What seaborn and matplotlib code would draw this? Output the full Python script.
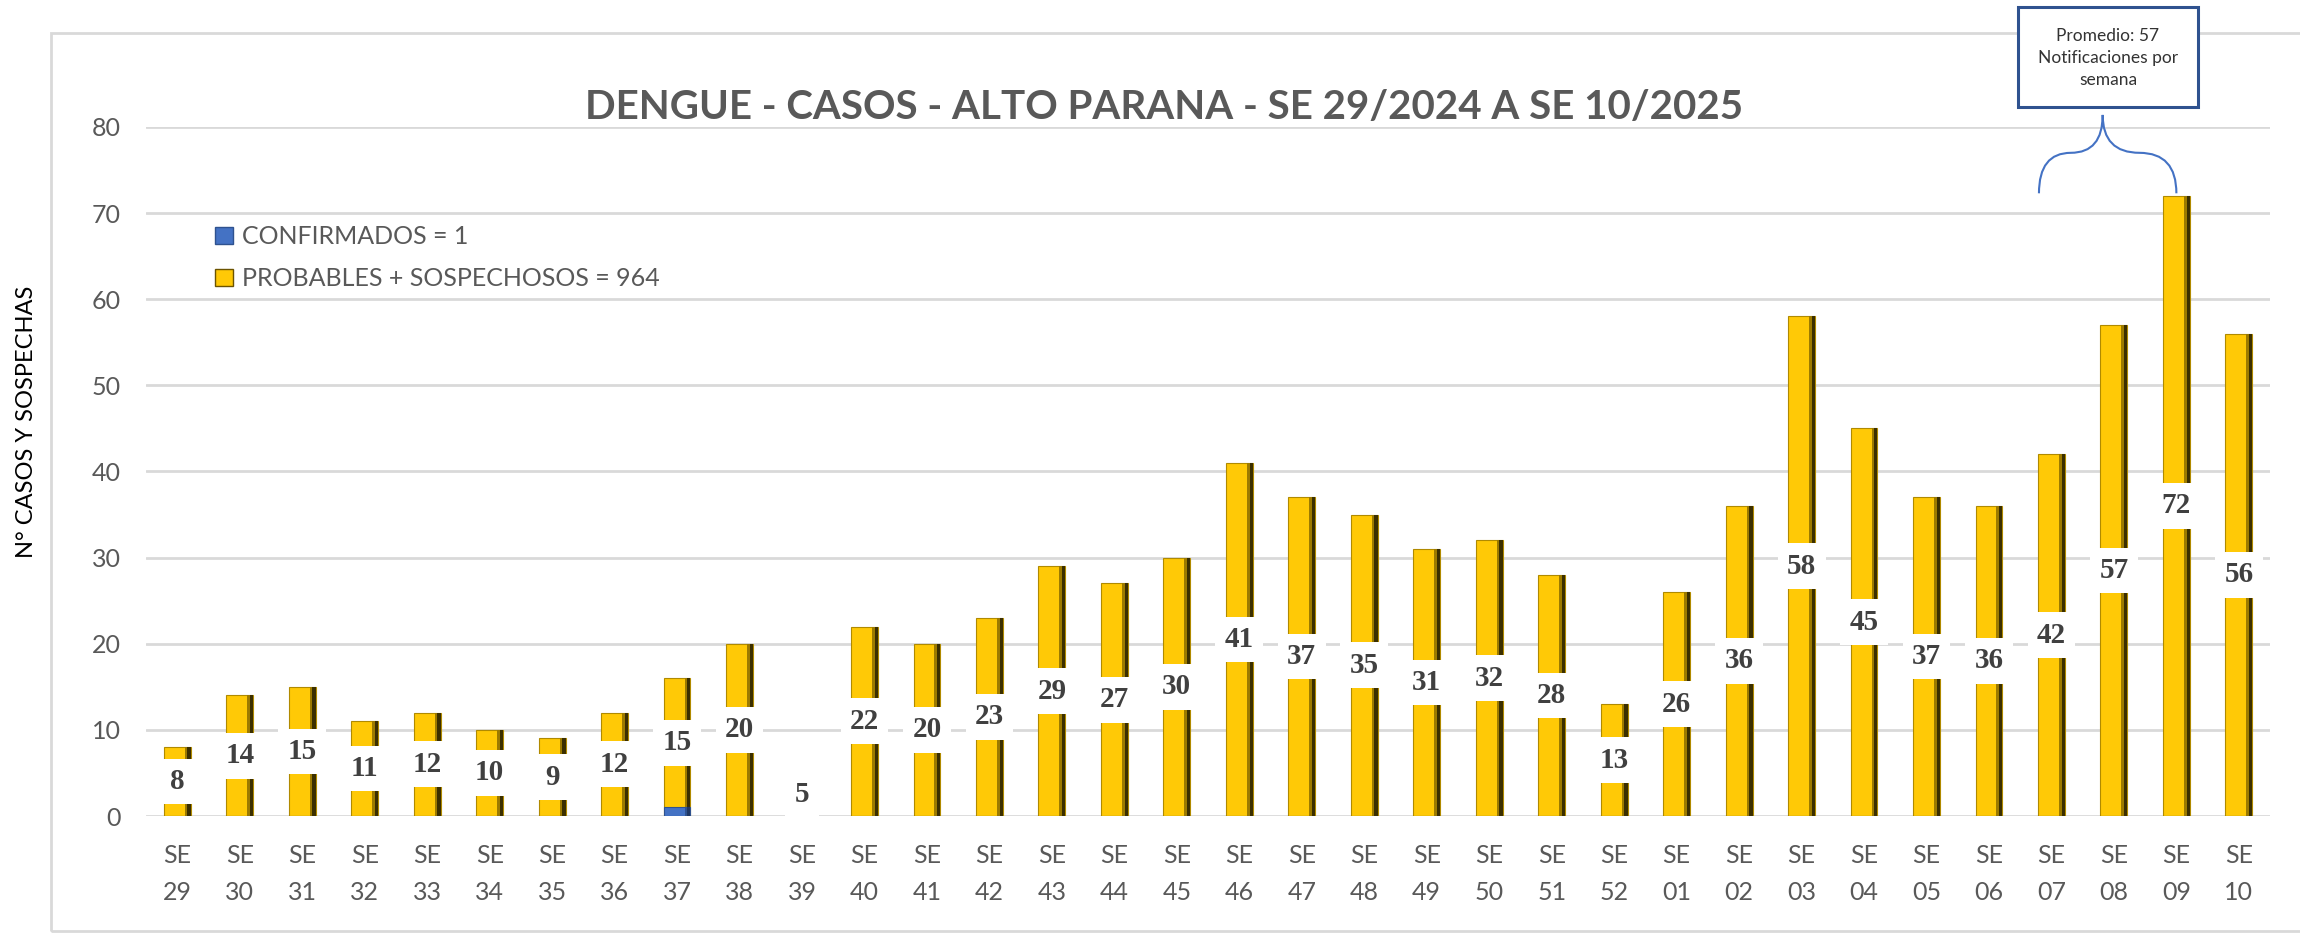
import numpy as np
import pandas as pd
import matplotlib
matplotlib.use('Agg')
import matplotlib.pyplot as plt
import seaborn as sns
from matplotlib.patches import Rectangle, Patch, PathPatch
from matplotlib.path import Path

# semanas epidemiologicas
semanas = ['29', '30', '31', '32', '33', '34', '35', '36', '37', '38', '39', '40',
           '41', '42', '43', '44', '45', '46', '47', '48', '49', '50', '51', '52',
           '01', '02', '03', '04', '05', '06', '07', '08', '09', '10']
probables = [8, 14, 15, 11, 12, 10, 9, 12, 15, 20, 5, 22,
             20, 23, 29, 27, 30, 41, 37, 35, 31, 32, 28, 13,
             26, 36, 58, 45, 37, 36, 42, 57, 72, 56]
confirmados = [0, 0, 0, 0, 0, 0, 0, 0, 1, 0, 0, 0,
               0, 0, 0, 0, 0, 0, 0, 0, 0, 0, 0, 0,
               0, 0, 0, 0, 0, 0, 0, 0, 0, 0]

titulo = 'DENGUE - CASOS - ALTO PARANA - SE 29/2024 A SE 10/2025'
nota = 'Promedio: 57\nNotificaciones por\nsemana'

df = pd.DataFrame({'semana': ['SE\n' + s for s in semanas],
                   'probables': probables,
                   'confirmados': confirmados})
df['total'] = df['probables'] + df['confirmados']

AMARILLO = '#FFC906'
AZUL = '#4472C4'
GRIS = '#595959'

sns.set_style('white')
plt.rcParams['font.family'] = ['Lato', 'DejaVu Sans']

fig = plt.figure(figsize=(23, 9.33), dpi=100)
ax = fig.add_axes([0.0635, 0.1254, 0.9235, 0.7385])

# SE 39 casi no se ve en el original
colores = [AMARILLO if s != '39' else '#FBF3DC' for s in semanas]
sns.barplot(data=df, x='semana', y='total', hue='semana', palette=colores,
            legend=False, width=0.43, saturation=1, ax=ax, zorder=2,
            edgecolor='#B08A00', linewidth=0.8)
n_yellow = len(ax.patches)
sns.barplot(data=df, x='semana', y='confirmados', color=AZUL, width=0.43,
            saturation=1, ax=ax, zorder=3, edgecolor='#2F528F', linewidth=0.8)

# efecto 3D: borde derecho oscuro
for k, p in enumerate(list(ax.patches)):
    h = p.get_height()
    if h <= 0 or semanas[k % len(semanas)] == '39':
        continue
    x, w = p.get_x(), p.get_width()
    dark1 = '#9C7A00' if k < n_yellow else '#2F528F'
    dark2 = '#3B2F00' if k < n_yellow else '#1F3763'
    ax.add_patch(Rectangle((x + w * 0.78, p.get_y()), w * 0.12, h, color=dark1,
                           zorder=p.get_zorder() + 0.1, lw=0))
    ax.add_patch(Rectangle((x + w * 0.88, p.get_y()), w * 0.12, h, color=dark2,
                           zorder=p.get_zorder() + 0.1, lw=0))

# etiquetas con fondo blanco
for i, row in df.iterrows():
    ax.text(i, row['confirmados'] + row['probables'] / 2, str(row['probables']),
            ha='center', va='center', fontsize=21, fontweight='bold',
            family=['Liberation Serif', 'DejaVu Serif'], color='#404040', zorder=5,
            bbox=dict(boxstyle='square,pad=0.32', facecolor='white', edgecolor='none'))

ax.set_ylim(0, 80)
ax.set_xlim(-0.5, len(semanas) - 0.5)
ax.set_yticks(range(0, 81, 10))
ax.yaxis.grid(True, color='#D9D9D9', linewidth=2, zorder=0)
ax.xaxis.grid(False)
ax.set_axisbelow(True)
for s in ax.spines.values():
    s.set_visible(False)
ax.tick_params(axis='both', length=0, labelsize=18, labelcolor=GRIS)
ax.tick_params(axis='x', pad=20)
ax.tick_params(axis='y', pad=18)
for lab in ax.get_xticklabels():
    lab.set_linespacing(1.75)
ax.set_xlabel('')
ax.set_ylabel('')

fig.text(0.0117, 0.548, 'N° CASOS Y SOSPECHAS', rotation=90, ha='center', va='center',
         fontsize=17, color='black')

fig.text(0.506, 0.885, titulo, ha='center', va='center', fontsize=29,
         fontweight='bold', color=GRIS)

handles = [Patch(facecolor=AZUL, edgecolor='#2F528F', label='CONFIRMADOS = %d' % sum(confirmados)),
           Patch(facecolor=AMARILLO, edgecolor='#6B5300', label='PROBABLES + SOSPECHOSOS = %d' % sum(probables))]
leg = ax.legend(handles=handles, loc='upper left', bbox_to_anchor=(0.022, 0.89),
                frameon=False, fontsize=18, handlelength=0.7, handleheight=0.7,
                handletextpad=0.35, labelspacing=0.75)
for t in leg.get_texts():
    t.set_color(GRIS)

# llave sobre SE 07 - SE 09
x0, x1, xm = 29.8, 32.0, 30.82
yb, ym, yt = 72.3, 77.0, 81.4
verts = [(x0, yb), (x0, ym), ((x0 + xm) / 2, ym), (xm, ym), (xm, yt),
         (xm, ym), ((xm + x1) / 2, ym), (x1, ym), (x1, yb)]
codes = [Path.MOVETO] + [Path.CURVE3] * 8
ax.add_patch(PathPatch(Path(verts, codes), facecolor='none', edgecolor='#4472C4',
                       lw=1.5, clip_on=False, zorder=6))

# cuadro de nota
fig.patches.append(Rectangle((0.8774, 0.8853), 0.0783, 0.1072, transform=fig.transFigure,
                             facecolor='white', edgecolor='#2F528F', lw=2.2, zorder=10))
fig.text(0.9165, 0.938, nota, ha='center', va='center', fontsize=12.5,
         color='#333333', linespacing=1.45, zorder=11)

# borde del grafico
fig.patches.append(Rectangle((51 / 2300, 0.002), 1.0, 1 - 33 / 933 - 0.002,
                             transform=fig.transFigure, facecolor='none',
                             edgecolor='#D9D9D9', lw=2, zorder=0))

fig.savefig('out.png', dpi=100, facecolor='white')
